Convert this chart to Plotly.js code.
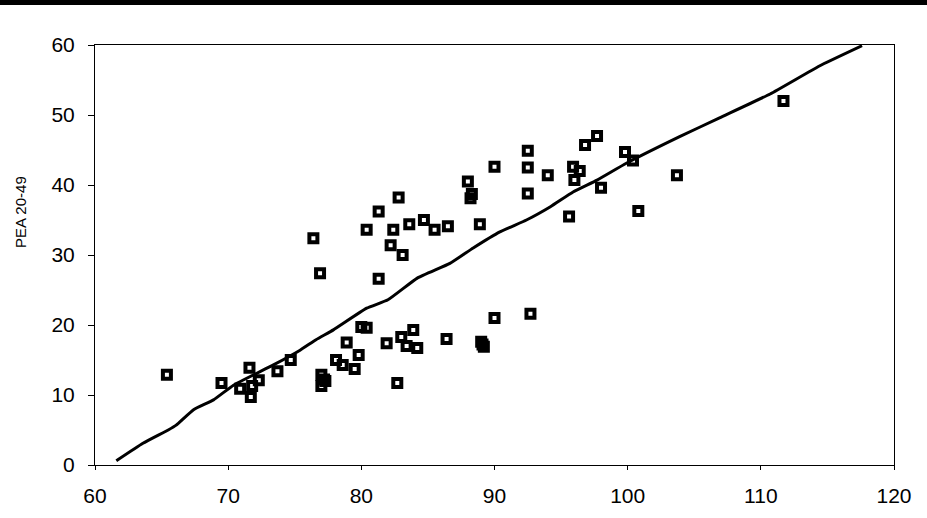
<!DOCTYPE html>
<html>
<head>
<meta charset="utf-8">
<script src="https://cdn.plot.ly/plotly-3.0.1.min.js"></script>
<style>html,body{margin:0;padding:0;background:#fff;}#chart{width:927px;height:518px;}</style>
</head>
<body>
<div id="chart"></div>
<script>
// Scatter points (x, PEA 20-49)
const pointsX = [65.4, 69.5, 70.9, 71.6, 71.8, 72.3, 71.7, 73.7, 74.7,
  77.0, 77.2, 77.0, 77.3,
  78.1, 78.6, 79.5, 79.8, 78.9, 80.0, 80.4,
  81.9, 83.0, 83.9, 83.4, 84.2, 86.4, 82.7,
  89.0, 89.2, 89.1, 90.0, 92.7,
  76.4, 76.9, 80.4, 81.3, 81.3, 82.2, 82.4, 82.8, 83.1, 83.6, 84.7, 85.5, 86.5,
  88.0, 88.3, 88.2, 88.9, 90.0,
  92.5, 92.5, 92.5, 94.0, 95.9, 96.4, 96.0, 96.8, 97.7, 98.0, 95.6, 99.8, 100.4,
  103.7, 100.8, 111.7];
const pointsY = [12.9, 11.7, 10.9, 13.9, 11.3, 12.1, 9.7, 13.4, 15.0,
  12.9, 12.2, 11.3, 12.0,
  15.0, 14.3, 13.7, 15.7, 17.5, 19.7, 19.6,
  17.4, 18.3, 19.3, 17.0, 16.7, 18.0, 11.7,
  17.6, 16.9, 17.2, 21.0, 21.6,
  32.4, 27.4, 33.6, 36.2, 26.6, 31.4, 33.6, 38.2, 30.0, 34.4, 35.0, 33.6, 34.1,
  40.5, 38.7, 38.1, 34.4, 42.6,
  44.9, 42.5, 38.8, 41.4, 42.6, 42.0, 40.7, 45.7, 47.0, 39.6, 35.5, 44.7, 43.5,
  41.4, 36.3, 52.0];

// Fitted curve
const curveX = [61.6, 63.6, 65.5, 66.1, 67.4, 68.9, 70.4, 73.4, 75.4, 76.6, 77.9, 80.4, 82.0,
  84.2, 86.65, 88.4, 90.4, 92.4, 94.2, 95.9, 97.7, 99.9, 103.9, 106.9, 110.7, 114.4, 117.6];
const curveY = [0.6, 3.1, 5.0, 5.7, 7.9, 9.3, 11.4, 14.3, 16.4, 17.9, 19.3, 22.4, 23.6,
  26.7, 28.8, 31.0, 33.3, 35.0, 36.9, 39.0, 40.7, 43.1, 46.9, 49.6, 53.0, 57.0, 59.9];

const yTitle = 'PEA 20-49';
const xTicks = [60, 70, 80, 90, 100, 110, 120];
const yTicks = [0, 10, 20, 30, 40, 50, 60];

const W = 927, H = 518, L = 95, R = 33, T = 45, B = 53;
const pw = W - L - R, ph = H - T - B;

const traces = [
  {
    x: pointsX, y: pointsY, type: 'scatter', mode: 'markers',
    marker: {symbol: 'square-open', size: 8, color: '#000', line: {width: 4, color: '#000'}},
    hoverinfo: 'x+y', showlegend: false
  },
  {
    x: curveX, y: curveY, type: 'scatter', mode: 'lines',
    line: {color: '#000', width: 3, shape: 'spline', smoothing: 0.4},
    hoverinfo: 'skip', showlegend: false
  }
];

const axisFont = {family: 'Liberation Sans, Arial, sans-serif', size: 21, color: '#000'};

const layout = {
  width: W, height: H,
  margin: {l: L, r: R, t: T, b: B, pad: 0},
  paper_bgcolor: '#fff', plot_bgcolor: '#fff',
  xaxis: {
    range: [60, 120], tickvals: xTicks, ticktext: xTicks.map(String),
    showgrid: false, zeroline: false, showline: true, mirror: true,
    linecolor: '#000', linewidth: 1,
    ticks: 'outside', ticklen: 4, tickcolor: '#000', tickwidth: 1,
    ticklabelstandoff: 8,
    tickfont: axisFont
  },
  yaxis: {
    range: [0, 60], tickvals: yTicks, ticktext: yTicks.map(String),
    showgrid: false, zeroline: false, showline: true, mirror: true,
    linecolor: '#000', linewidth: 1,
    ticks: 'outside', ticklen: 6, tickcolor: '#000', tickwidth: 1,
    ticklabelstandoff: 9,
    tickfont: axisFont
  },
  annotations: [{
    text: yTitle, textangle: -90, showarrow: false,
    xref: 'paper', yref: 'paper',
    x: (20 - L) / pw, y: (H - B - 212) / ph,
    xanchor: 'center', yanchor: 'middle',
    font: {family: 'Liberation Sans, Arial, sans-serif', size: 15, color: '#000'}
  }],
  shapes: [{
    type: 'rect', xref: 'paper', yref: 'paper',
    x0: -L / pw, x1: 1 + R / pw,
    y0: 1 + (T - 5) / ph, y1: 1 + T / ph,
    fillcolor: '#000', line: {width: 0}
  }]
};

Plotly.newPlot('chart', traces, layout, {displayModeBar: false, staticPlot: true});
</script>
</body>
</html>
